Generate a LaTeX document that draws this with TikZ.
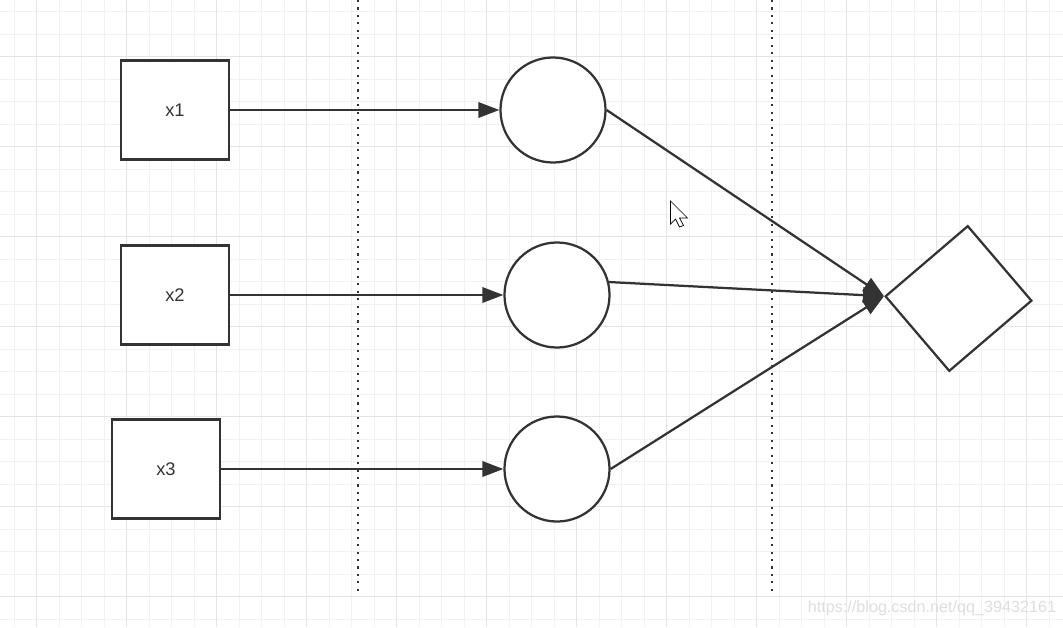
\documentclass[tikz,border=0pt]{standalone}
\usepackage{fontspec}
\setmainfont{Liberation Sans}
\usepackage{xcolor}
\usetikzlibrary{arrows.meta, calc}
\definecolor{inkgray}{RGB}{51, 51, 51}
\definecolor{gridminor}{RGB}{241, 241, 241}
\definecolor{gridmajor}{RGB}{228, 228, 228}
\definecolor{markgray}{RGB}{222, 222, 222}

\begin{document}
\begin{tikzpicture}[x=0.025cm, y=-0.025cm,
    inbox/.style={draw, inkgray, line width=1.6pt, fill=white, minimum width=2.7cm, minimum height=2.475cm,
          text=inkgray, font=\fontsize{13}{15}\selectfont},
    unit/.style={draw, inkgray, line width=1.6pt, fill=white, circle, minimum size=2.625cm},
    flow/.style={-{Triangle[length=15pt, width=11pt]}, inkgray, line width=1.6pt}]
    \useasboundingbox (0, 0) rectangle (1063, 627);
    \fill[white] (0, 0) rectangle (1063, 627);

    % Grid
    \foreach \k in {0,...,46} {
        \draw[gridminor, line width=0.7pt] ({14.3+22.5*\k}, 0) -- ({14.3+22.5*\k}, 627);
    }
    \foreach \k in {0,...,27} {
        \draw[gridminor, line width=0.7pt] (0, {11.7+22.5*\k}) -- (1063, {11.7+22.5*\k});
    }
    \foreach \k in {1,5,...,45} {
        \draw[gridmajor, line width=0.7pt] ({14.3+22.5*\k}, 0) -- ({14.3+22.5*\k}, 627);
    }
    \foreach \k in {2,6,...,26} {
        \draw[gridmajor, line width=0.7pt] (0, {11.7+22.5*\k}) -- (1063, {11.7+22.5*\k});
    }

    % Layer separators
    \foreach \x in {358, 772} {
        \draw[inkgray, line width=1.5pt, dash pattern=on 1.5pt off 3.8pt] (\x, 0) -- (\x, 593);
    }

    % Inputs (left)
    \node[inbox] (x1) at (175, 110) {x1};
    \node[inbox] (x2) at (175, 295) {x2};
    \node[inbox] (x3) at (166, 469) {x3};

    % Hidden units
    \node[unit] (h1) at (553, 110) {};
    \node[unit] (h2) at (557, 295) {};
    \node[unit] (h3) at (557, 469) {};

    % Output
    \node[draw, inkgray, line width=1.6pt, fill=white, rotate=40.5, minimum width=2.7cm, minimum height=2.45cm]
        (out) at (958.5, 298.5) {};

    % Connections
    \foreach \src/\dst in {x1/h1, x2/h2, x3/h3} {
        \draw[flow] (\src.east) -- (\dst.west);
    }
    \draw[flow] (h1.east) -- (out.north west);
    \draw[flow] (h2.14) -- (out.north west);
    \draw[flow] (h3.east) -- (out.north west);

    % Mouse pointer
    \draw[black, line width=0.5pt, fill=white, line join=miter]
        (670.5, 201) -- (670.5, 224) -- (675.5, 219) -- (679.5, 227) -- (683.5, 225.5)
        -- (679.5, 218) -- (687.5, 218) -- cycle;

    % Watermark
    \node[anchor=east, markgray, font=\fontsize{11.5}{13}\selectfont] (mark) at (1061, 608)
        {https://blog.csdn.net/qq\_39432161};
\end{tikzpicture}
\end{document}
